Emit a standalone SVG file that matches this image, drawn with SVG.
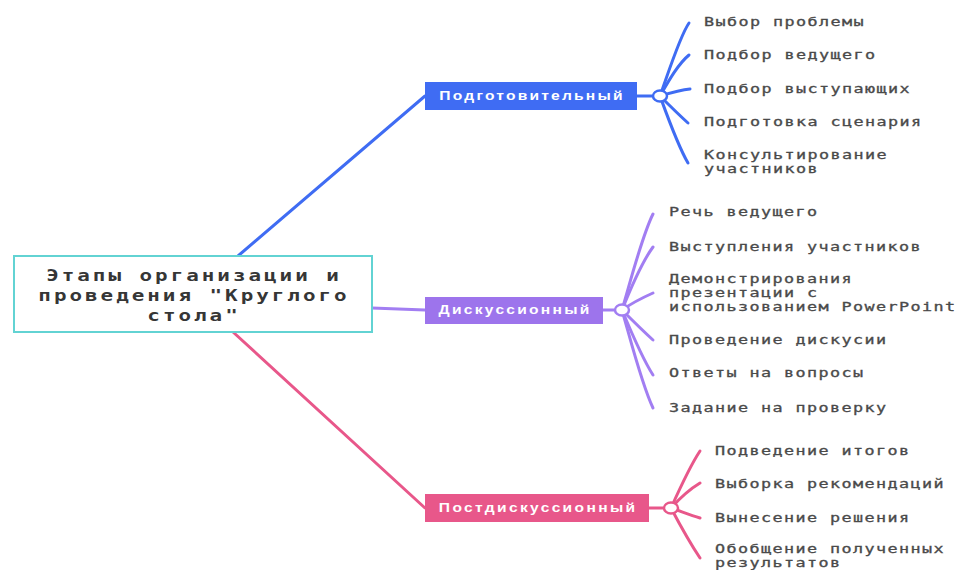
<svg xmlns="http://www.w3.org/2000/svg" width="960" height="570" viewBox="0 0 960 570">
<style>
.it{font-family:"DejaVu Sans Mono","Liberation Mono",monospace;font-size:12px;fill:#4a4a4a;stroke:#4a4a4a;stroke-width:0.3;letter-spacing:1px}
.rt{font-family:"DejaVu Sans Mono","Liberation Mono",monospace;font-size:15.5px;font-weight:bold;fill:#363636;letter-spacing:2.2px;text-anchor:middle}
.bl{font-family:"Liberation Sans","DejaVu Sans",sans-serif;font-size:12px;font-weight:bold;fill:#ffffff;text-anchor:middle}
.cb{fill:none;stroke:#3f6cf3;stroke-width:3;stroke-linecap:round}
.cp{fill:none;stroke:#a27ef2;stroke-width:3;stroke-linecap:round}
.ck{fill:none;stroke:#e8578a;stroke-width:3;stroke-linecap:round}
</style>
<rect width="960" height="570" fill="#ffffff"/>
<g id="connectors">
  <path class="cb" d="M238 256 L425 96"/>
  <path class="cp" d="M372 308 L425 310"/>
  <path class="ck" d="M233 332 L425 508"/>
  <path class="cb" d="M637 96 L653 96"/>
  <path class="cp" d="M603 310 L615 310"/>
  <path class="ck" d="M649 508 L664 508"/>
  <path class="cb" d="M660 96 C670 68 680 36 689 23"/>
  <path class="cb" d="M660 96 C668 82 678 64 689 55"/>
  <path class="cb" d="M660 96 C670 93 680 90 690 89"/>
  <path class="cb" d="M660 96 C668 104 678 114 688 123"/>
  <path class="cb" d="M660 96 C668 118 678 146 688 163"/>
  <path class="cp" d="M622 310 C632 276 642 236 653 214"/>
  <path class="cp" d="M622 310 C632 285 642 262 653 247"/>
  <path class="cp" d="M622 310 C632 303 644 297 653 293"/>
  <path class="cp" d="M622 310 C632 320 642 330 653 340"/>
  <path class="cp" d="M622 310 C632 334 642 358 653 375"/>
  <path class="cp" d="M622 310 C632 345 642 385 653 408"/>
  <path class="ck" d="M671 508 C680 488 690 466 700 451"/>
  <path class="ck" d="M671 508 C680 498 690 489 700 483"/>
  <path class="ck" d="M671 508 C680 511 690 515 700 518"/>
  <path class="ck" d="M671 508 C680 525 690 543 700 558"/>
  <ellipse cx="660" cy="96" rx="7" ry="5.5" fill="#ffffff" stroke="#3f6cf3" stroke-width="2.5"/>
  <ellipse cx="622" cy="310" rx="7" ry="5.5" fill="#ffffff" stroke="#a27ef2" stroke-width="2.5"/>
  <ellipse cx="671" cy="508" rx="7" ry="5.5" fill="#ffffff" stroke="#e8578a" stroke-width="2.5"/>
</g>
<g id="root">
  <rect x="14" y="256" width="358" height="76" fill="#ffffff" stroke="#62d3d3" stroke-width="2"/>
  <text class="rt" transform="translate(194,281) scale(1.35,1)">Этапы организации и</text>
  <text class="rt" transform="translate(194,301) scale(1.35,1)">проведения "Круглого</text>
  <text class="rt" transform="translate(194,321) scale(1.35,1)">стола"</text>
</g>
<g id="stage1">
  <rect x="425" y="82" width="212" height="28" fill="#3f6cf3"/>
  <text class="bl" transform="translate(531,100) scale(1.3,1)" textLength="141" lengthAdjust="spacing">Подготовительный</text>
</g>
<g id="stage2">
  <rect x="425" y="297" width="178" height="27" fill="#9d74ec"/>
  <text class="bl" transform="translate(514,314) scale(1.3,1)" textLength="116" lengthAdjust="spacing">Дискуссионный</text>
</g>
<g id="stage3">
  <rect x="425" y="494" width="224" height="28" fill="#e8578a"/>
  <text class="bl" transform="translate(537,512) scale(1.3,1)" textLength="151" lengthAdjust="spacing">Постдискуссионный</text>
</g>
<g id="s1-items">
  <text class="it" transform="translate(704,26) scale(1.4,1)">Выбор проблемы</text>
  <text class="it" transform="translate(704,59) scale(1.4,1)">Подбор ведущего</text>
  <text class="it" transform="translate(704,93) scale(1.4,1)">Подбор выступающих</text>
  <text class="it" transform="translate(704,126) scale(1.4,1)">Подготовка сценария</text>
  <text class="it" transform="translate(704,159) scale(1.4,1)">Консультирование</text>
  <text class="it" transform="translate(704,173) scale(1.4,1)">участников</text>
</g>
<g id="s2-items">
  <text class="it" transform="translate(669,216) scale(1.4,1)">Речь ведущего</text>
  <text class="it" transform="translate(669,251) scale(1.4,1)">Выступления участников</text>
  <text class="it" transform="translate(669,283) scale(1.4,1)">Демонстрирования</text>
  <text class="it" transform="translate(669,297) scale(1.4,1)">презентации с</text>
  <text class="it" transform="translate(669,311) scale(1.4,1)">использованием PowerPoint</text>
  <text class="it" transform="translate(669,344) scale(1.4,1)">Проведение дискусии</text>
  <text class="it" transform="translate(669,377) scale(1.4,1)">Ответы на вопросы</text>
  <text class="it" transform="translate(669,412) scale(1.4,1)">Задание на проверку</text>
</g>
<g id="s3-items">
  <text class="it" transform="translate(715,455) scale(1.4,1)">Подведение итогов</text>
  <text class="it" transform="translate(715,488) scale(1.4,1)">Выборка рекомендаций</text>
  <text class="it" transform="translate(715,522) scale(1.4,1)">Вынесение решения</text>
  <text class="it" transform="translate(715,553) scale(1.4,1)">Обобщение полученных</text>
  <text class="it" transform="translate(715,567) scale(1.4,1)">результатов</text>
</g>
</svg>
